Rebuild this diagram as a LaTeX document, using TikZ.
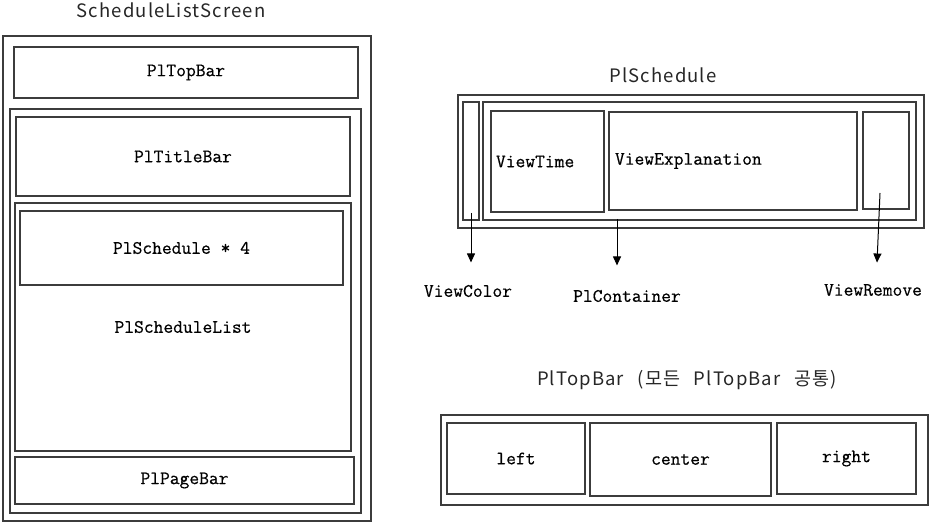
\documentclass[tikz,border=0pt]{standalone}
\usepackage{fontspec}
\newfontfamily\krfont[LetterSpace=6, WordSpace=2.6]{Noto Sans CJK KR}
\newfontfamily\boxfont[FakeBold=0.5]{Latin Modern Mono}
\usetikzlibrary{arrows.meta,positioning,calc}
\definecolor{boxgray}{RGB}{60,60,60}

\begin{document}
\begin{tikzpicture}[x=1pt,y=-1pt,
  box/.style={draw=boxgray, line width=1.8pt, inner sep=0pt},
  lbl/.style={font=\boxfont\fontsize{19}{22}\selectfont},
  title/.style={font=\krfont\fontsize{18.5}{22}\selectfont, text=black!85},
  arr/.style={-{Triangle[length=9pt,width=8pt]}, line width=1pt}]
  \useasboundingbox (0,0) rectangle (933,529);

  % ScheduleListScreen
  \node[title] (screentitle) at (171,10) {ScheduleListScreen};
  \node[box, minimum width=368pt, minimum height=485pt] (screen) at (187,278.5) {};
  \node[box, lbl, minimum width=344pt, minimum height=51pt] (topbar) at (186,72.5) {PlTopBar};
  \node[box, minimum width=351pt, minimum height=404pt] (body) at (185.5,311) {};
  \node[box, lbl, minimum width=334pt, minimum height=79pt] (titlebar) at (183,156.5) {PlTitleBar};
  \node[box, lbl, minimum width=336pt, minimum height=248pt] (schedlist) at (183,327) {PlScheduleList};
  \node[box, lbl, minimum width=323pt, minimum height=74pt] (schedfour) at (181.5,248) {PlSchedule * 4};
  \node[box, lbl, minimum width=339pt, minimum height=47pt] (pagebar) at (184.5,480.5) {PlPageBar};

  % PlSchedule
  \node[title] (schedtitle) at (663,75) {PlSchedule};
  \node[box, minimum width=466pt, minimum height=133pt] (schedule) at (691,161.5) {};
  \node[box, minimum width=16pt, minimum height=118pt] (viewcolor) at (471,161) {};
  \node[box, minimum width=433pt, minimum height=118pt] (container) at (699.5,161) {};
  \node[box, lbl, minimum width=113pt, minimum height=101pt, text width=103pt,
    align=left, inner xsep=5pt] (viewtime) at (547.5,161.5) {ViewTime};
  \node[box, lbl, minimum width=248pt, minimum height=98pt, text width=236pt,
    align=left, inner xsep=6pt] (viewexpl) at (733,161) {ViewExplanation};
  \node[box, minimum width=46pt, minimum height=97pt] (viewremove) at (886,160.5) {};

  \node[lbl] (lblcolor) at (468,291) {ViewColor};
  \node[lbl] (lblcont) at (627,296) {PlContainer};
  \node[lbl] (lblremove) at (873,290) {ViewRemove};

  \draw[arr] ([yshift=8pt]viewcolor.south) -- ([yshift=19pt]lblcolor.north -| viewcolor.south);
  \draw[arr] ([xshift=-82.5pt,yshift=2pt]container.south) -- ([xshift=-10pt,yshift=21pt]lblcont.north);
  \draw[arr] ([xshift=-6pt,yshift=-32.5pt]viewremove.center) -- ([xshift=4pt,yshift=18pt]lblremove.north);

  % PlTopBar (common)
  \node[title] (bartitle) at (687,380) {PlTopBar (모든 PlTopBar 공통)};
  \node[box, minimum width=487pt, minimum height=90pt] (commonbar) at (684.5,460) {};
  \node[box, lbl, minimum width=138pt, minimum height=71pt] (left) at (516,458.5) {left};
  \node[box, lbl, minimum width=181pt, minimum height=73pt] (center) at (680.5,459.5) {center};
  \node[box, lbl, minimum width=139pt, minimum height=71pt] (right) at (846.5,458.5) {right};
\end{tikzpicture}
\end{document}
